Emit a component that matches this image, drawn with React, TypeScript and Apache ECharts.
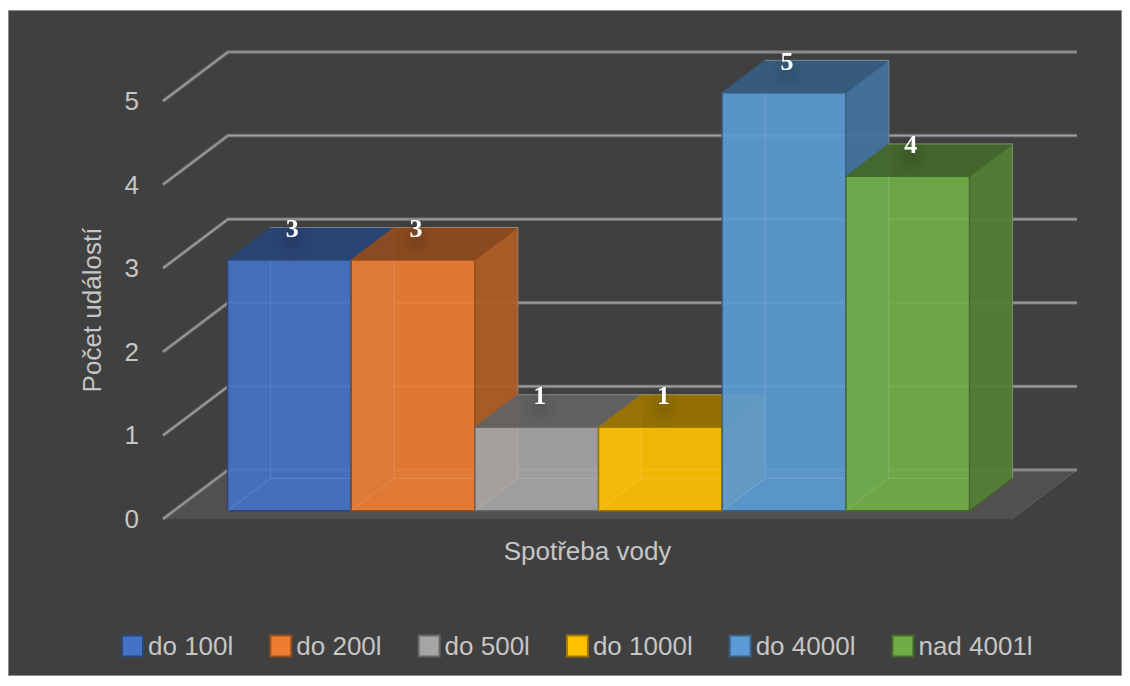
import React, { useEffect, useRef } from "react";
import * as echarts from "echarts";

const categories = ["Spotřeba vody"];
const seriesNames = ["do 100l", "do 200l", "do 500l", "do 1000l", "do 4000l", "nad 4001l"];
const seriesValues = [3, 3, 1, 1, 5, 4];
const yTicks = [0, 1, 2, 3, 4, 5];
const COLORS = ["#4472C4", "#ED7D31", "#A5A5A5", "#FFC000", "#5B9BD5", "#70AD47"];

const DEPTH_X = 65;
const DEPTH_Y = -49;
const BAR_FRONT = 0.17;
const BAR_BACK = 0.83;
const GROUP_FRAC = 0.874;
const TEXT = "#c6c6c6";
const FONT = "'Liberation Sans', Arial, sans-serif";

function shade(hex: string, f: number) {
  const n = parseInt(hex.slice(1), 16);
  const r = Math.min(255, Math.round(((n >> 16) & 255) * f));
  const g = Math.min(255, Math.round(((n >> 8) & 255) * f));
  const b = Math.min(255, Math.round((n & 255) * f));
  return `rgb(${r},${g},${b})`;
}

function barRender(idx: number) {
  return (params: any, api: any) => {
    const cat = api.value(0);
    const v = api.value(1);
    const base = api.coord([cat, 0]);
    const top = api.coord([cat, v]);
    const band = api.size([1, 0])[0];
    const groupW = band * GROUP_FRAC;
    const barW = groupW / seriesValues.length;
    const fx = DEPTH_X * BAR_FRONT;
    const fy = DEPTH_Y * BAR_FRONT;
    const bdx = DEPTH_X * (BAR_BACK - BAR_FRONT);
    const bdy = DEPTH_Y * (BAR_BACK - BAR_FRONT);
    const x0 = base[0] - groupW / 2 + idx * barW + fx;
    const x1 = x0 + barW;
    const yB = base[1] + fy;
    const yT = top[1] + fy;
    const c = COLORS[idx];
    const edge = shade(c, 0.6);
    const children: any[] = [
      {
        type: "rect",
        shape: { x: x0, y: yT, width: barW, height: yB - yT },
        style: { fill: c, opacity: 0.92, stroke: edge, lineWidth: 1.5 },
      },
      {
        type: "polyline",
        shape: { points: [[x0, yB], [x0 + bdx, yB + bdy], [x1, yB + bdy]] },
        style: { stroke: "rgba(255,255,255,0.12)", lineWidth: 1.2, fill: null },
      },
      {
        type: "line",
        shape: { x1: x0 + bdx, y1: yB + bdy, x2: x0 + bdx, y2: yT + bdy },
        style: { stroke: "rgba(255,255,255,0.1)", lineWidth: 1.2 },
      },
      {
        type: "polygon",
        shape: { points: [[x0, yT], [x1, yT], [x1 + bdx, yT + bdy], [x0 + bdx, yT + bdy]] },
        style: { fill: shade(c, 0.6), opacity: 0.95, stroke: edge, lineWidth: 1 },
      },
      {
        type: "polygon",
        shape: { points: [[x1, yT], [x1, yB], [x1 + bdx, yB + bdy], [x1 + bdx, yT + bdy]] },
        style: { fill: shade(c, 0.74), opacity: 0.95, stroke: edge, lineWidth: 1.2 },
      },
      {
        type: "polyline",
        shape: { points: [[x0 + bdx, yT + bdy], [x1 + bdx, yT + bdy], [x1 + bdx, yB + bdy]] },
        style: { stroke: "rgba(170,170,170,0.6)", lineWidth: 1, fill: null },
      },
      {
        type: "text",
        z2: 100,
        style: {
          text: String(v),
          x: x0 + barW / 2 + 3,
          y: yT + bdy + 1,
          align: "center",
          verticalAlign: "middle",
          fill: "#ffffff",
          font: "bold 26px 'Liberation Serif', 'Times New Roman', serif",
          textShadowColor: "rgba(0,0,0,0.6)",
          textShadowBlur: 16,
          textShadowOffsetY: 10,
        },
      },
    ];
    return { type: "group", children };
  };
}

export default function App() {
  const ref = useRef<HTMLDivElement>(null);
  useEffect(() => {
    document.body.style.margin = "0";
    const chart = echarts.init(ref.current as HTMLDivElement, null, { renderer: "svg" });
    const barSeries = seriesNames.map((name, i) => ({
      type: "custom",
      name,
      z: 3 + i,
      data: [[0, seriesValues[i]]],
      itemStyle: { color: COLORS[i], borderColor: shade(COLORS[i], 0.65), borderWidth: 1.5 },
      renderItem: barRender(i),
    }));
    const option: any = {
      animation: false,
      backgroundColor: "#ffffff",
      graphic: [
        {
          type: "rect",
          z: -10,
          shape: { x: 8.5, y: 10.5, width: 1113, height: 665 },
          style: { fill: "#404040", stroke: "#8c8c8c", lineWidth: 1 },
        },
      ],
      grid: { left: 163, right: 118, top: 101, bottom: 167 },
      xAxis: {
        type: "category",
        data: categories,
        axisLine: { show: false },
        axisTick: { show: false },
        axisLabel: { color: TEXT, fontSize: 26, fontFamily: FONT, margin: 19 },
      },
      yAxis: {
        type: "value",
        min: 0,
        max: 5,
        interval: 1,
        name: "Počet událostí",
        nameLocation: "middle",
        nameRotate: 90,
        nameGap: 58,
        nameTextStyle: { color: TEXT, fontSize: 26, fontFamily: FONT },
        axisLine: { show: false },
        axisTick: { show: false },
        splitLine: { show: false },
        axisLabel: { color: TEXT, fontSize: 26, fontFamily: FONT, margin: 24 },
      },
      legend: {
        data: seriesNames.map((name, i) => ({
          name,
          itemStyle: { color: COLORS[i], borderColor: shade(COLORS[i], 0.62), borderWidth: 2 },
        })),
        left: 116,
        top: 628,
        itemWidth: 21,
        itemHeight: 21,
        itemGap: 36,
        icon: "rect",
        textStyle: { color: TEXT, fontSize: 26, fontFamily: FONT },
      },
      series: [
        ...barSeries,
        {
          type: "custom",
          name: "floor",
          z: 1,
          data: [[0, 0]],
          renderItem: (params: any, api: any) => {
            const p = api.coord([0, 0]);
            const cs = params.coordSys;
            const xl = cs.x;
            const xr = cs.x + cs.width;
            return {
              type: "group",
              children: [
                {
                  type: "polygon",
                  shape: {
                    points: [
                      [xl, p[1]],
                      [xr, p[1]],
                      [xr + DEPTH_X, p[1] + DEPTH_Y],
                      [xl + DEPTH_X, p[1] + DEPTH_Y],
                    ],
                  },
                  style: { fill: "#524f4f" },
                },
                {
                  type: "line",
                  shape: { x1: xr, y1: p[1], x2: xr + DEPTH_X, y2: p[1] + DEPTH_Y },
                  style: { stroke: "rgba(200,200,200,0.35)", lineWidth: 1, lineDash: [2, 2] },
                },
              ],
            };
          },
        },
        {
          type: "custom",
          name: "walls",
          z: 2,
          data: yTicks.map((v) => [0, v]),
          renderItem: (params: any, api: any) => {
            const p = api.coord([0, api.value(1)]);
            const cs = params.coordSys;
            const xl = cs.x;
            const xr = cs.x + cs.width;
            const pts = [
              [xl, p[1]],
              [xl + DEPTH_X, p[1] + DEPTH_Y],
              [xr + DEPTH_X, p[1] + DEPTH_Y],
            ];
            return {
              type: "group",
              children: [
                { type: "polyline", shape: { points: pts }, style: { stroke: "#737373", lineWidth: 3.5, fill: null } },
                { type: "polyline", shape: { points: pts }, style: { stroke: "#a3a3a3", lineWidth: 1.2, fill: null } },
              ],
            };
          },
        },
      ],
    };
    chart.setOption(option);
    return () => chart.dispose();
  }, []);
  return <div ref={ref} style={{ width: 1130, height: 686 }} />;
}
